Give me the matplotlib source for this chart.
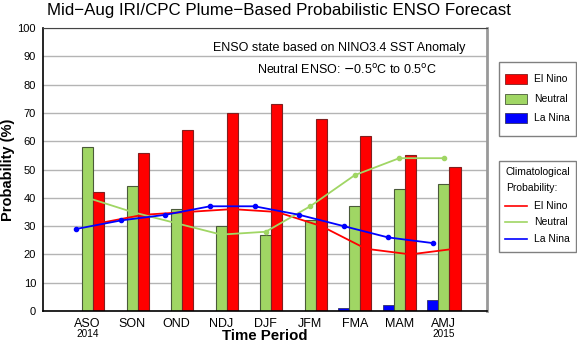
"""
mid-aug IRI/CPC plume-based ENSO forecast probabilities
"""
import numpy as np
import matplotlib.pyplot as plt
from matplotlib.lines import Line2D
from matplotlib.patches import Rectangle

seasons = ['ASO', 'SON', 'OND', 'NDJ', 'DJF', 'JFM', 'FMA', 'MAM', 'AMJ']
years = {0: '2014', 8: '2015'}

el_nino = [42, 56, 64, 70, 73, 68, 62, 55, 51]
neutral = [58, 44, 36, 30, 27, 32, 37, 43, 45]
la_nina = [0, 0, 0, 0, 0, 0, 1, 2, 4]

clim_el_nino = [31, 34, 35, 36, 35, 30, 22, 20, 22]
clim_neutral = [40, 35, 31, 27, 28, 37, 48, 54, 54]
clim_la_nina = [29, 32, 34, 37, 37, 34, 30, 26, 24]

categories = ['El Nino', 'Neutral', 'La Nina']

RED = '#ff0000'
GREEN = '#a0d664'
BLUE = '#0000ff'
colors = [RED, GREEN, BLUE]
edges = ['#802020', '#4a5a3a', '#333366']

plt.rcParams['font.family'] = ['Liberation Sans', 'DejaVu Sans']

W, H = 577, 342
fig = plt.figure(figsize=(W / 100, H / 100), dpi=100)


def fx(px):
    return px / W


def fy(py):
    return 1 - py / H


ax = fig.add_axes([fx(43), fy(311), (487 - 43) / W, (311 - 28) / H])

x = np.arange(len(seasons))
w = 0.25
ax.bar(x - w, la_nina, w, color=BLUE, edgecolor=edges[2], linewidth=0.6, zorder=2)
ax.bar(x, neutral, w, color=GREEN, edgecolor=edges[1], linewidth=0.8, zorder=2)
ax.bar(x + w, el_nino, w, color=RED, edgecolor=edges[0], linewidth=0.8, zorder=2)

ax.plot(x + w, clim_el_nino, color=RED, lw=1.3, marker='o', ms=3, zorder=3)
ax.plot(x, clim_neutral, color=GREEN, lw=1.3, marker='o', ms=3, zorder=3)
ax.plot(x - w, clim_la_nina, color=BLUE, lw=1.3, marker='o', ms=3, zorder=4)

ax.set_xlim(-1.0, 8.97)
ax.set_ylim(0, 100)
ax.set_yticks(np.arange(0, 101, 10))
ax.set_xticks(x)
ax.set_xticklabels(seasons, fontsize=9)
ax.tick_params(axis='y', length=0, labelsize=8, pad=5)
ax.tick_params(axis='x', length=0, pad=5)
ax.yaxis.grid(True, color='#b4b4b4', lw=1.0, zorder=0)
ax.set_axisbelow(True)
ax.spines['top'].set_color('#444444')
ax.spines['right'].set_color('#999999')
ax.spines['right'].set_linewidth(2)
for s in ['left', 'bottom']:
    ax.spines[s].set_color('black')
    ax.spines[s].set_linewidth(1.2)

for i, yr in years.items():
    ax.text(i, -8.1, yr, ha='center', va='center', fontsize=7.2)

fig.text(fx(265), fy(336), 'Time Period', ha='center', va='center',
         fontsize=10.8, fontweight='bold')
fig.text(fx(8), fy(169.5), 'Probability (%)', ha='center', va='center',
         rotation=90, fontsize=10.5, fontweight='bold')

ax.text(5.64, 92.8, 'ENSO state based on NINO3.4 SST Anomaly', ha='center',
        va='center', fontsize=9)
ax.text(5.83, 85.2, r'Neutral ENSO: $-$0.5$^{\rm o}$C to 0.5$^{\rm o}$C',
        ha='center', va='center', fontsize=9)

fig.text(fx(279), fy(11), 'Mid\u2212Aug IRI/CPC Plume\u2212Based Probabilistic ENSO Forecast',
         ha='center', va='center', fontsize=12.2)

# legend boxes drawn by hand to get the exact layout
box_kw = dict(fill=False, edgecolor='#808080', lw=1.0, transform=fig.transFigure)
fig.add_artist(Rectangle((fx(499), fy(136)), (576 - 499) / W, (136 - 62) / H, **box_kw))
for lab, c, e, yy in zip(categories, colors, edges, [79, 99, 118]):
    fig.add_artist(Rectangle((fx(505), fy(yy + 5)), 22 / W, 10 / H, facecolor=c,
                             edgecolor=e, lw=0.6, transform=fig.transFigure))
    fig.text(fx(534), fy(yy), lab, ha='left', va='center', fontsize=7.5)

fig.add_artist(Rectangle((fx(499), fy(252)), (576 - 499) / W, (252 - 161) / H, **box_kw))
fig.text(fx(506), fy(172), 'Climatological', ha='left', va='center', fontsize=7.5)
fig.text(fx(506), fy(188), 'Probability:', ha='left', va='center', fontsize=7.5)
for lab, c, yy in zip(categories, colors, [206, 222, 239]):
    fig.add_artist(Line2D([fx(505), fx(527)], [fy(yy), fy(yy)], color=c, lw=1.2,
                          transform=fig.transFigure))
    fig.text(fx(534), fy(yy), lab, ha='left', va='center', fontsize=7.5)

fig.savefig('out.png', dpi=100)
